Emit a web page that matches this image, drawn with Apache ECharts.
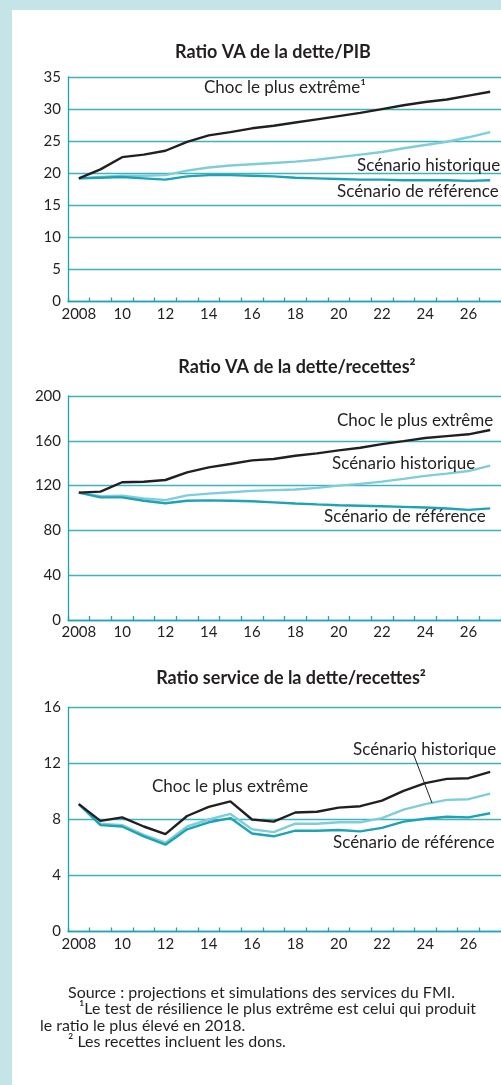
<!DOCTYPE html>
<html>
<head>
<meta charset="utf-8">
<script src="https://cdn.jsdelivr.net/npm/echarts@6/dist/echarts.min.js"></script>
<style>
  html, body { margin: 0; padding: 0; background: #c5e4e8; }
  #main {
    width: 501px; height: 1085px;
    background: linear-gradient(#fff, #fff) 12px 10px / 489px 1075px no-repeat, #c5e4e8;
  }
</style>
</head>
<body>
<div id="main"></div>
<script>
var years = ['2008','2009','2010','2011','2012','2013','2014','2015','2016','2017',
             '2018','2019','2020','2021','2022','2023','2024','2025','2026','2027'];
var xTickLabels = ['2008','','10','','12','','14','','16','','18','','20','','22','','24','','26',''];

// Ratio VA de la dette/PIB
var pibChoc = [19.2,20.6,22.5,22.9,23.5,24.9,25.9,26.4,27.0,27.4,27.9,28.4,28.9,29.4,30.0,30.6,31.1,31.5,32.1,32.7];
var pibHist = [19.2,19.4,19.6,19.6,19.7,20.4,20.9,21.2,21.4,21.6,21.8,22.1,22.5,22.9,23.3,23.9,24.4,24.9,25.6,26.4];
var pibRef  = [19.2,19.3,19.4,19.2,19.0,19.5,19.7,19.7,19.6,19.5,19.3,19.2,19.1,19.0,19.0,18.9,18.9,18.9,18.8,18.9];

// Ratio VA de la dette/recettes
var recChoc = [113.7,114.6,123,123.5,125,131.8,136.3,139.3,142.5,143.8,146.7,148.8,151.5,153.8,157,159.7,162.5,164.2,165.8,169.6];
var recHist = [113.7,110.5,111,108.5,107,111.3,112.8,114,115.3,116,116.5,118,120,121.5,123.5,126,128.7,130.7,133,137.8];
var recRef  = [113.7,109.5,109.5,106.5,104.2,106.5,106.8,106.5,106,105,104,103.2,102.5,102,101.5,101,100.5,99.5,98.3,99.7];

// Ratio service de la dette/recettes
var servChoc = [9.1,7.9,8.15,7.5,6.95,8.25,8.9,9.3,8.0,7.85,8.5,8.55,8.85,8.95,9.35,10.05,10.6,10.9,10.95,11.4];
var servHist = [9.1,7.7,7.6,6.9,6.35,7.5,8.0,8.4,7.3,7.1,7.7,7.7,7.8,7.8,8.1,8.7,9.1,9.4,9.45,9.85];
var servRef  = [9.1,7.6,7.5,6.8,6.2,7.3,7.8,8.1,7.0,6.8,7.2,7.2,7.25,7.15,7.4,7.85,8.05,8.2,8.15,8.45];

var yMax = [35, 200, 16];
var yStep = [5, 40, 4];

var TEAL = '#1ea3b3';
var GRIDC = '#3fb1bf';
var LIGHT = '#7fcdd8';
var BLACK = '#231f20';
var FONT = 'Lato, "Open Sans", sans-serif';

var myChart = echarts.init(document.getElementById('main'));

var grids = [
    {left: 68, top: 77, width: 439.5, height: 224.5},
    {left: 68, top: 396, width: 439.5, height: 224},
    {left: 68, top: 707.5, width: 439.5, height: 224}
];

var xAxes = [], yAxes = [], series = [];
var sets = [[pibHist, pibRef, pibChoc], [recHist, recRef, recChoc], [servHist, servRef, servChoc]];
for (var i = 0; i < 3; i++) {
    xAxes.push({
        type: 'category', gridIndex: i, data: years, boundaryGap: true,
        axisLine: {lineStyle: {color: TEAL, width: 1.3}},
        axisTick: {show: true, inside: true, length: 4, interval: 0, lineStyle: {color: TEAL, width: 1.3}},
        axisLabel: {
            interval: 0, color: BLACK, fontFamily: FONT, fontSize: 15, margin: 5,
            formatter: function (v, idx) { return xTickLabels[idx]; }
        },
        splitLine: {show: false}
    });
    yAxes.push({
        type: 'value', gridIndex: i, min: 0, max: yMax[i], interval: yStep[i],
        axisLine: {show: true, lineStyle: {color: TEAL, width: 1.3}},
        axisTick: {show: false},
        axisLabel: {color: BLACK, fontFamily: FONT, fontSize: 15, margin: 7},
        splitLine: {lineStyle: {color: GRIDC, width: 1.3}}
    });
    var cols = [LIGHT, TEAL, BLACK];
    for (var s = 0; s < 3; s++) {
        series.push({
            type: 'line', xAxisIndex: i, yAxisIndex: i, data: sets[i][s],
            showSymbol: false, smooth: false, silent: true,
            lineStyle: {color: cols[s], width: 2.4},
            z: 3 + s
        });
    }
}

// annotation text, font given as one css string
function txt(x, y, text, font, align) {
    return {
        type: 'text', x: x, y: y, z: 100,
        style: {
            text: text, fill: BLACK, font: font + ' ' + FONT,
            textAlign: align || 'left', textVerticalAlign: 'middle'
        }
    };
}

var graphics = [
    txt(273, 52, 'Ratio VA de la dette/PIB', 'bold 18px', 'center'),
    txt(297, 367, 'Ratio VA de la dette/recettes\u00b2', 'bold 18px', 'center'),
    txt(291, 678, 'Ratio service de la dette/recettes\u00b2', 'bold 18px', 'center'),

    txt(204, 88, 'Choc le plus extrême\u00b9', '17px'),
    txt(357, 166, 'Scénario historique', '17px'),
    txt(337, 192, 'Scénario de référence', '17px'),

    txt(337, 421, 'Choc le plus extrême', '17px'),
    txt(332, 464, 'Scénario historique', '17px'),
    txt(324, 517, 'Scénario de référence', '17px'),

    txt(152, 787, 'Choc le plus extrême', '17px'),
    txt(353, 750, 'Scénario historique', '17px'),
    txt(333, 843, 'Scénario de référence', '17px'),
    {
        type: 'line', z: 100,
        shape: {x1: 413, y1: 753, x2: 432, y2: 803},
        style: {stroke: BLACK, lineWidth: 1}
    },

    txt(68, 993, 'Source : projections et simulations des services du FMI.', '16px'),
    txt(79, 1009, '\u00b9Le test de résilience le plus extrême est celui qui produit', '16px'),
    txt(40, 1026, 'le ratio le plus élevé en 2018.', '16px'),
    txt(68, 1042, '\u00b2 Les recettes incluent les dons.', '16px')
];

var option = {
    animation: false,
    grid: grids,
    xAxis: xAxes,
    yAxis: yAxes,
    series: series,
    graphic: graphics
};
myChart.setOption(option);
</script>
</body>
</html>
